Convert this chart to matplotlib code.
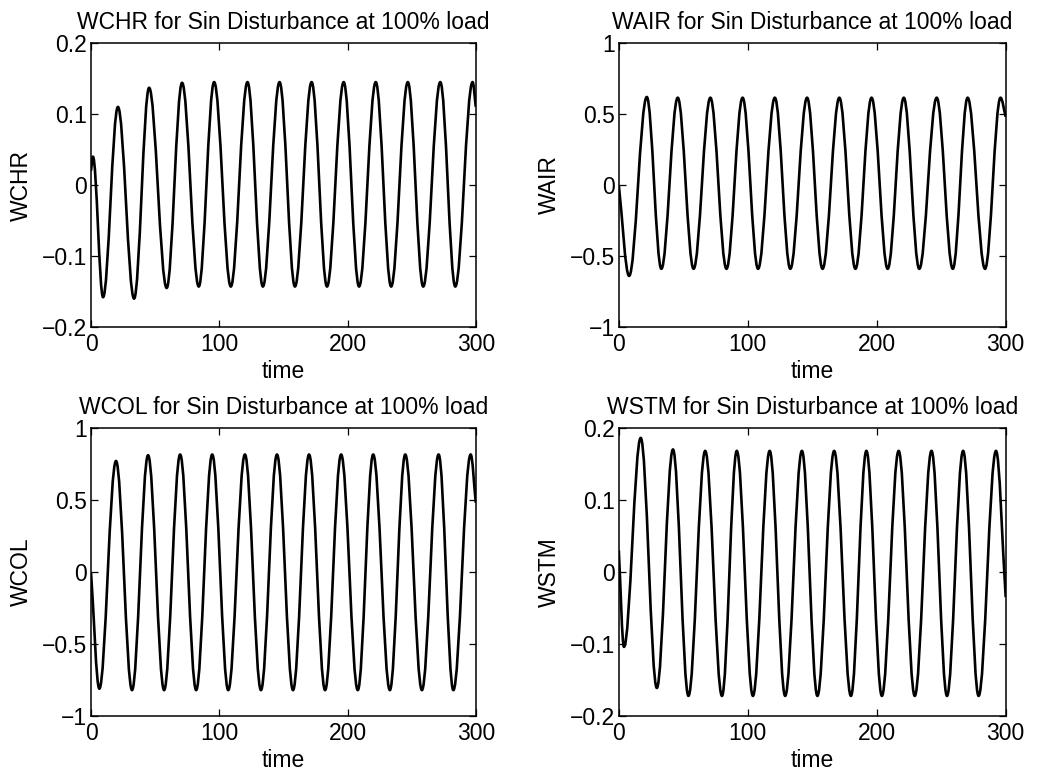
import matplotlib
matplotlib.use("Agg")
import matplotlib.pyplot as plt
from matplotlib.path import Path
from matplotlib.patches import PathPatch

plt.rcParams['font.family'] = ['Liberation Sans', 'DejaVu Sans']

# turning points (time, value)
wchr_t = [0, 1.5, 9.4, 21, 33.6, 45.3, 59, 71, 84, 96, 109, 122, 134, 147,
          159, 172, 184, 197, 209, 222, 234, 247, 259, 272.3, 284, 297.5, 300]
wchr_v = [0.02, 0.04, -0.158, 0.11, -0.16, 0.137, -0.145, 0.144, -0.143, 0.145,
          -0.143, 0.145, -0.143, 0.145, -0.143, 0.145, -0.143, 0.145, -0.143, 0.145,
          -0.143, 0.145, -0.143, 0.145, -0.143, 0.145, 0.11]

wair_t = [0, 8, 21.7, 33, 45.7, 58, 71, 83.5, 96, 108, 121, 133, 146,
          158, 171, 183.5, 196, 208.5, 221, 233, 246.5, 259, 270.5, 284, 296, 300]
wair_v = [0, -0.64, 0.62, -0.59, 0.615, -0.59, 0.615, -0.59, 0.615, -0.59,
          0.615, -0.59, 0.615, -0.59, 0.615, -0.59, 0.615, -0.59, 0.615, -0.59,
          0.615, -0.59, 0.615, -0.59, 0.615, 0.48]

wcol_t = [0, 6.5, 19.5, 32, 44.5, 57, 69.5, 82, 94.5, 107, 120, 132.5, 145,
          157.5, 170, 182.5, 195, 208, 220, 233, 245, 258, 271, 282.5, 296, 300]
wcol_v = [0, -0.81, 0.77, -0.82, 0.81, -0.82, 0.815, -0.82, 0.815, -0.82,
          0.815, -0.82, 0.815, -0.82, 0.815, -0.82, 0.815, -0.82, 0.815, -0.82,
          0.815, -0.82, 0.815, -0.82, 0.815, 0.48]

wstm_t = [0, 4, 17, 29.5, 42, 54, 67, 80, 91.5, 104, 117, 129, 142,
          154, 167, 180, 192, 204, 217, 229.5, 242.5, 254.5, 267, 279, 292.5, 300]
wstm_v = [0.03, -0.104, 0.186, -0.161, 0.17, -0.172, 0.168, -0.172, 0.168, -0.172,
          0.168, -0.172, 0.168, -0.172, 0.168, -0.172, 0.168, -0.172, 0.168, -0.172,
          0.168, -0.172, 0.168, -0.172, 0.168, -0.035]

names = ['WCHR', 'WAIR', 'WCOL', 'WSTM']
series = [(wchr_t, wchr_v), (wair_t, wair_v), (wcol_t, wcol_v), (wstm_t, wstm_v)]
ylims = [(-0.2, 0.2), (-1, 1), (-1, 1), (-0.2, 0.2)]
yticks = [[-0.2, -0.1, 0, 0.1, 0.2], [-1, -0.5, 0, 0.5, 1],
          [-1, -0.5, 0, 0.5, 1], [-0.2, -0.1, 0, 0.1, 0.2]]
yticklabels = [['\u22120.2', '\u22120.1', '0', '0.1', '0.2'],
               ['\u22121', '\u22120.5', '0', '0.5', '1'],
               ['\u22121', '\u22120.5', '0', '0.5', '1'],
               ['\u22120.2', '\u22120.1', '0', '0.1', '0.2']]
xticks = [0, 100, 200, 300]


def wave_path(t, v):
    # smooth curve through the turning points (flat tangent at each extremum)
    verts = [(t[0], v[0])]
    codes = [Path.MOVETO]
    n = len(t)
    for i in range(n - 1):
        d = t[i + 1] - t[i]
        if i == 0:
            c1 = (t[i] + d / 3, v[i] + (v[i + 1] - v[i]) / 3)
        else:
            c1 = (t[i] + 0.3634 * d, v[i])
        if i + 1 == n - 1:
            c2 = (t[i + 1] - d / 3, v[i + 1] - (v[i + 1] - v[i]) / 3)
        else:
            c2 = (t[i + 1] - 0.3634 * d, v[i + 1])
        verts += [c1, c2, (t[i + 1], v[i + 1])]
        codes += [Path.CURVE4] * 3
    return Path(verts, codes)


fig = plt.figure(figsize=(10.4, 7.75), dpi=100)
boxes = [[0.0875, 0.578, 0.370, 0.3665],
         [0.595, 0.578, 0.372, 0.3665],
         [0.0875, 0.076, 0.370, 0.372],
         [0.595, 0.076, 0.372, 0.372]]

fs = 16.5
for k in range(4):
    ax = fig.add_axes(boxes[k])
    t, v = series[k]
    ax.add_patch(PathPatch(wave_path(t, v), fill=False, edgecolor='black',
                           lw=1.9, joinstyle='round'))
    ax.set_xlim(0, 300)
    ax.set_ylim(*ylims[k])
    ax.set_xticks(xticks)
    ax.set_yticks(yticks[k])
    ax.set_yticklabels(yticklabels[k])
    ax.tick_params(direction='in', top=True, right=True, length=5, width=0.9,
                   labelsize=fs)
    ax.tick_params(axis='x', pad=4)
    ax.tick_params(axis='y', pad=3)
    for s in ax.spines.values():
        s.set_linewidth(1.1)
    ax.set_xlabel('time', fontsize=fs, labelpad=3)
    ax.set_ylabel(names[k], fontsize=fs, labelpad=6)
    ax.set_title(names[k] + ' for Sin Disturbance at 100% load', fontsize=fs, pad=10)

fig.savefig('out.png', dpi=100)
